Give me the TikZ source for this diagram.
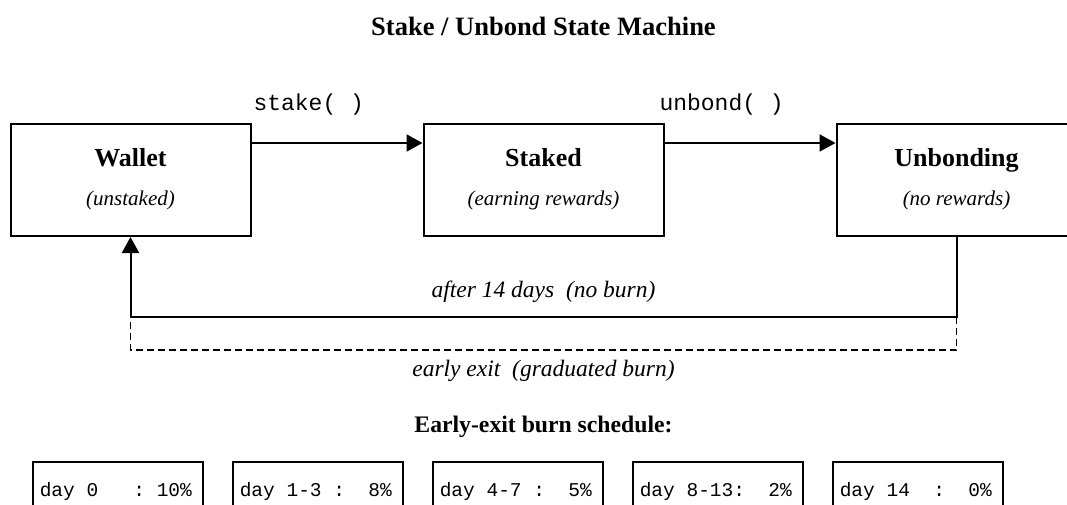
\documentclass[tikz,border=0pt]{standalone}
\usepackage{fontspec}
\setmainfont{Liberation Serif}
\setmonofont{Liberation Mono}
\usetikzlibrary{arrows.meta}

\newcommand\schedline[1]{\makebox[156pt][l]{#1}}

\tikzset{
  statebox/.style={draw, line width=2pt, minimum width=240pt, minimum height=112pt},
  statename/.style={anchor=base, font=\bfseries\fontsize{26}{30}\selectfont},
  statenote/.style={anchor=base, font=\itshape\fontsize{21}{25}\selectfont},
  calllbl/.style={anchor=base west, font=\ttfamily\fontsize{23}{27}\selectfont},
  pathlbl/.style={anchor=base, font=\itshape\fontsize{23.5}{28}\selectfont},
  sched/.style={draw, line width=1.5pt, anchor=north west, minimum width=170pt, minimum height=60pt,
    inner xsep=7pt, font=\ttfamily\fontsize{19.5}{23}\selectfont},
}

\begin{document}
\begin{tikzpicture}[x=1pt,y=-1pt,node distance=200pt,>={Triangle[length=16pt,width=17pt]}]
    \path[use as bounding box, clip] (0,0) rectangle (1067,505);

    \node (title) [anchor=base, font=\bfseries\fontsize{26.5}{31}\selectfont] at (543.5,36) {Stake / Unbond State Machine};

    % states
    \node (Wallet) [statebox] at (130.5,180) {};
    \node (Staked) [statebox, node distance=413pt, right of=Wallet] {};
    \node (Unbonding) [statebox, node distance=413pt, right of=Staked] {};

    \node (Walletname) [statename] at ([yshift=13pt]Wallet.center) {Wallet};
    \node (Walletnote) [statenote] at ([yshift=-25pt]Wallet.center) {(unstaked)};
    \node (Stakedname) [statename] at ([yshift=13pt]Staked.center) {Staked};
    \node (Stakednote) [statenote] at ([yshift=-25pt]Staked.center) {(earning rewards)};
    \node (Unbondingname) [statename] at ([yshift=13pt]Unbonding.center) {Unbonding};
    \node (Unbondingnote) [statenote] at ([yshift=-25pt]Unbonding.center) {(no rewards)};

    % calls
    \draw[->, line width=2pt] ([yshift=37pt]Wallet.east) -- ([yshift=37pt]Staked.west);
    \draw[->, line width=2pt] ([yshift=37pt]Staked.east) -- ([yshift=37pt]Unbonding.west);
    \node (stakelbl) [calllbl] at (250,111) {stake( )};
    \node (unbondlbl) [calllbl] at (656,111) {unbond( )};

    % way back
    \coordinate (ret) at (543.5,317);
    \coordinate (early) at (543.5,350);
    \draw[->, line width=2pt] (Unbonding.south) |- (ret) -| (Wallet.south);
    \draw[line width=1.5pt, dash pattern=on 7pt off 4pt] (Unbonding.south |- ret) |- (early) -| (Wallet.south |- ret);
    \node (afterlbl) [pathlbl] at ([yshift=20pt]ret) {after 14 days\ \ (no burn)};
    \node (earlylbl) [pathlbl] at ([yshift=-26pt]early) {early exit\ \ (graduated burn)};

    % burn schedule
    \node (schedtitle) [anchor=base, font=\bfseries\fontsize{23.7}{28}\selectfont] at (543.5,432) {Early-exit burn schedule:};
    \node (d0) [sched] at (32,461) {\schedline{day 0\ \ \ : 10\%}};
    \node (d1) [sched, right of=d0] {\schedline{day 1-3 :\ \ 8\%}};
    \node (d2) [sched, right of=d1] {\schedline{day 4-7 :\ \ 5\%}};
    \node (d3) [sched, right of=d2] {\schedline{day 8-13:\ \ 2\%}};
    \node (d4) [sched, right of=d3] {\schedline{day 14\ \ :\ \ 0\%}};
\end{tikzpicture}
\end{document}
